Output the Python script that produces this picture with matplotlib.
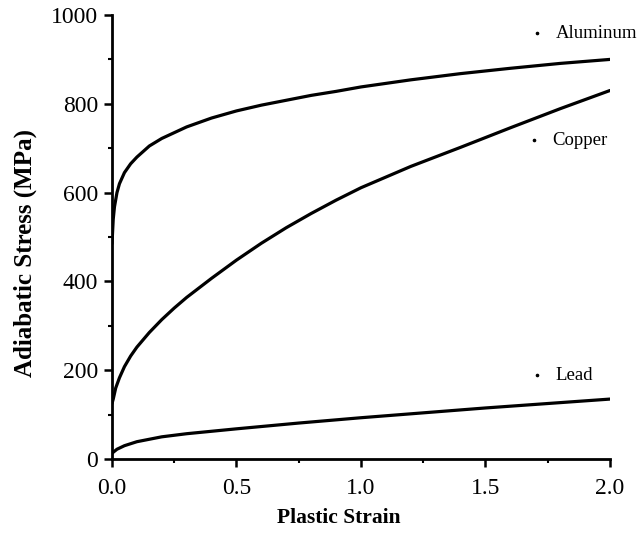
import matplotlib
matplotlib.use("Agg")
import matplotlib.pyplot as plt
from matplotlib.ticker import MultipleLocator

plt.rcParams['font.family'] = ['Liberation Serif', 'DejaVu Serif']

# (strain, adiabatic stress in MPa)
al_strain = [0.0, 0.005, 0.01, 0.02, 0.03, 0.05, 0.075, 0.1, 0.15, 0.2, 0.3, 0.4,
             0.5, 0.6, 0.7, 0.8, 0.9, 1.0, 1.2, 1.4, 1.6, 1.8, 2.0]
al_stress = [485, 540, 568, 600, 620, 645, 665, 680, 705, 722, 748, 768,
             784, 797, 808, 819, 828, 838, 854, 868, 880, 891, 900]

cu_strain = [0.0, 0.005, 0.015, 0.03, 0.05, 0.075, 0.1, 0.15, 0.2, 0.25, 0.3, 0.4,
             0.5, 0.6, 0.7, 0.8, 0.9, 1.0, 1.2, 1.4, 1.6, 1.8, 2.0]
cu_stress = [125, 135, 160, 183, 208, 232, 252, 285, 314, 340, 364, 407,
             448, 486, 521, 553, 583, 611, 659, 702, 746, 789, 830]

pb_strain = [0.0, 0.02, 0.05, 0.1, 0.2, 0.3, 0.5, 0.75, 1.0, 1.25, 1.5, 1.75, 2.0]
pb_stress = [13, 22, 30, 39, 50, 57, 68, 81, 93, 104, 115, 125, 135]

labels = ['Aluminum', 'Copper', 'Lead']
label_pos = [(0.853, 0.959), (0.847, 0.718), (0.853, 0.189)]  # axes fraction

fig = plt.figure(figsize=(6.41, 5.42), dpi=100)
ax = fig.add_axes([0.1747, 0.1531, 0.9516 - 0.1747, 0.9723 - 0.1531])

for xs, ys in [(al_strain, al_stress), (cu_strain, cu_stress), (pb_strain, pb_stress)]:
    ax.plot(xs, ys, color='black', lw=2.3, solid_capstyle='round')

for name, (px, py) in zip(labels, label_pos):
    ax.plot([px], [py], 'o', color='black', ms=1.6, transform=ax.transAxes, clip_on=False)
    ax.text(px + 0.038, py, name, transform=ax.transAxes, fontsize=13.5,
            va='center', ha='left')

ax.set_xlim(0, 2.0)
ax.set_ylim(0, 1000)
ax.xaxis.set_major_locator(MultipleLocator(0.5))
ax.xaxis.set_minor_locator(MultipleLocator(0.25))
ax.yaxis.set_major_locator(MultipleLocator(200))
ax.yaxis.set_minor_locator(MultipleLocator(100))
ax.set_xticklabels([f'{v:.1f}' for v in ax.get_xticks()])

for s in ['top', 'right']:
    ax.spines[s].set_visible(False)
for s in ['left', 'bottom']:
    ax.spines[s].set_linewidth(2.0)

ax.tick_params(which='major', direction='out', length=6, width=1.8, labelsize=17)
ax.tick_params(which='minor', direction='out', length=3, width=1.5)
ax.tick_params(axis='x', which='major', pad=8)
ax.tick_params(axis='y', which='major', pad=4)

ax.set_xlabel('Plastic Strain', fontsize=15.5, fontweight='bold')
ax.set_ylabel('Adiabatic Stress (MPa)', fontsize=18, fontweight='bold')
ax.xaxis.set_label_coords(0.456, -0.11)
ax.yaxis.set_label_coords(-0.15, 0.464)

fig.savefig('out.png', dpi=100)
